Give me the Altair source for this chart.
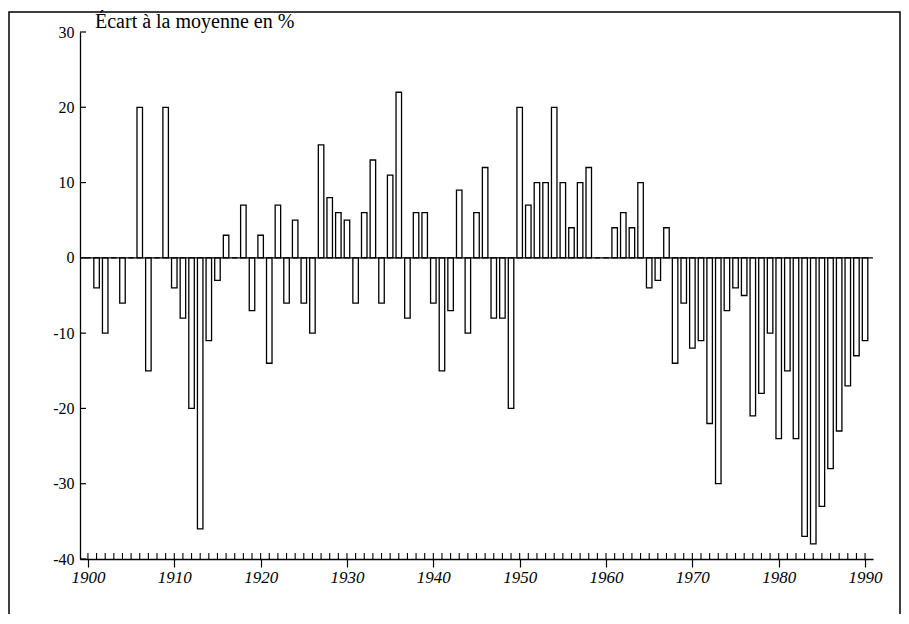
import altair as alt
import pandas as pd

# ---- data ----
years = list(range(1900, 1991))
ecart = [
    0, -4, -10, 0, -6, 0, 20, -15, 0, 20,          # 1900-1909
    -4, -8, -20, -36, -11, -3, 3, 0, 7, -7,         # 1910-1919
    3, -14, 7, -6, 5, -6, -10, 15, 8, 6,            # 1920-1929
    5, -6, 6, 13, -6, 11, 22, -8, 6, 6,             # 1930-1939
    -6, -15, -7, 9, -10, 6, 12, -8, -8, -20,        # 1940-1949
    20, 7, 10, 10, 20, 10, 4, 10, 12, 0,            # 1950-1959
    0, 4, 6, 4, 10, -4, -3, 4, -14, -6,             # 1960-1969
    -12, -11, -22, -30, -7, -4, -5, -21, -18, -10,  # 1970-1979
    -24, -15, -24, -37, -38, -33, -28, -23, -17, -13,  # 1980-1989
    -11,                                            # 1990
]
y_tick_values = [-40, -30, -20, -10, 0, 10, 20, 30]
x_major_values = list(range(1900, 1991, 10))
title_text = ["Écart à la moyenne en %"]

df = pd.DataFrame({"annee": years, "ecart": ecart})

W, H = 793, 527
FONT = "Liberation Serif"

x_scale = alt.Scale(domain=[1899.66, 1990.34], nice=False, zero=False)
y_scale = alt.Scale(domain=[-40, 30], nice=False, zero=False)

bars = alt.Chart(df).mark_bar(
    size=5.5, fill="white", stroke="black", strokeWidth=1.3
).encode(
    x=alt.X(
        "annee:Q", scale=x_scale,
        axis=alt.Axis(
            values=x_major_values, format="d", title=None, grid=False,
            tickSize=8, tickColor="black", tickWidth=1.2,
            domainColor="black", domainWidth=1.3,
            labelFont=FONT, labelFontStyle="italic", labelFontSize=17,
            labelColor="black", labelPadding=2,
        ),
    ),
    y=alt.Y(
        "ecart:Q", scale=y_scale,
        axis=alt.Axis(
            values=y_tick_values, title=None, grid=False, ticks=False,
            domainColor="black", domainWidth=1.3,
            labelFont=FONT, labelFontSize=16, labelColor="black",
            labelPadding=6, labelExpr="'' + datum.value",
        ),
    ),
    y2=alt.datum(0),
)

zero_line = alt.Chart(pd.DataFrame({"v": [0]})).mark_rule(
    color="black", strokeWidth=1.3
).encode(
    y=alt.Y("v:Q", scale=y_scale),
    x=alt.value(0), x2=alt.value(W),
)

y_ticks = alt.Chart(pd.DataFrame({"t": y_tick_values})).mark_rule(
    color="black", strokeWidth=1.2
).encode(
    y=alt.Y("t:Q", scale=y_scale),
    x=alt.value(0), x2=alt.value(6),
)

x_minor = alt.Chart(df).mark_rule(color="black", strokeWidth=1.1).encode(
    x=alt.X("annee:Q", scale=x_scale),
    y=alt.value(H - 6), y2=alt.value(H),
)

title = alt.Chart(pd.DataFrame({"t": title_text})).mark_text(
    align="left", baseline="middle", font=FONT, fontSize=20, color="black"
).encode(
    text="t:N", x=alt.value(15), y=alt.value(-10),
)

one = pd.DataFrame({"a": [0]})
frame = alt.Chart(one).mark_rect(
    fill="white", fillOpacity=0, stroke="black", strokeWidth=1.5
).encode(
    x=alt.value(-71), x2=alt.value(820), y=alt.value(-20), y2=alt.value(H + 80)
)

chart = alt.layer(
    frame, bars, zero_line, y_ticks, x_minor, title
).properties(
    width=W, height=H,
    autosize=alt.AutoSizeParams(type="none"),
    padding={"left": 72, "top": 24, "right": 28, "bottom": 55},
    background="white",
).configure_view(stroke=None)

chart.save("out.html", embed_options={"renderer": "svg", "actions": False})
